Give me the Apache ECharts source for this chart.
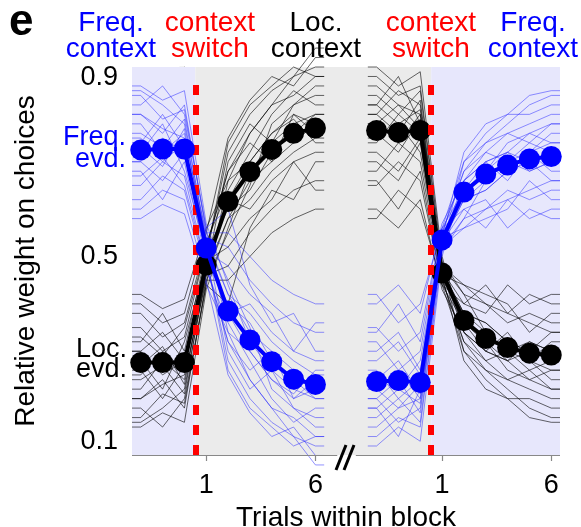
<!DOCTYPE html>
<html><head><meta charset="utf-8">
<script src="https://cdn.jsdelivr.net/npm/echarts@6/dist/echarts.min.js"></script>
<style>html,body{margin:0;padding:0;background:#fff}#c{width:581px;height:527px}</style>
</head><body><div id="c"></div>
<script>
// ---- data ----
const trials = [-2, -1, 0, 1, 2, 3, 4, 5, 6];
const xTickTrials = [1, 6];
const yTicks = [0.1, 0.5, 0.9];
const OFFSET = 10.8; // shift of the second panel on the shared (broken) axis

// mean curves
const leftFreqMean = [0.725, 0.727, 0.727, 0.518, 0.385, 0.324, 0.278, 0.241, 0.230];
const leftLocMean  = [0.276, 0.276, 0.276, 0.482, 0.616, 0.679, 0.726, 0.760, 0.771];
const rightLocMean = [0.766, 0.762, 0.766, 0.465, 0.365, 0.327, 0.308, 0.296, 0.292];
const rightFreqMean= [0.236, 0.238, 0.234, 0.535, 0.636, 0.674, 0.693, 0.706, 0.711];

// individual subjects, left panel (Freq. -> Loc. context)
const leftLoc = [
 [0.30,0.25,0.28,0.50,0.72,0.80,0.85,0.88,0.90],
 [0.20,0.24,0.18,0.45,0.55,0.65,0.78,0.82,0.86],
 [0.35,0.30,0.33,0.52,0.68,0.74,0.70,0.80,0.78],
 [0.15,0.18,0.22,0.46,0.58,0.62,0.68,0.72,0.75],
 [0.40,0.36,0.38,0.55,0.75,0.83,0.88,0.86,0.92],
 [0.25,0.30,0.26,0.48,0.62,0.70,0.76,0.79,0.74],
 [0.28,0.22,0.32,0.49,0.52,0.58,0.62,0.70,0.72],
 [0.18,0.14,0.20,0.44,0.66,0.76,0.82,0.84,0.88],
 [0.32,0.38,0.30,0.51,0.60,0.64,0.72,0.76,0.80],
 [0.22,0.28,0.24,0.47,0.70,0.78,0.74,0.82,0.84],
 [0.38,0.33,0.36,0.53,0.64,0.72,0.80,0.85,0.82],
 [0.26,0.20,0.27,0.46,0.48,0.55,0.60,0.64,0.66],
 [0.14,0.17,0.15,0.43,0.56,0.68,0.74,0.78,0.80],
 [0.30,0.34,0.28,0.50,0.74,0.82,0.86,0.90,0.88],
 [0.42,0.39,0.41,0.56,0.66,0.70,0.76,0.80,0.76],
 [0.24,0.27,0.21,0.47,0.58,0.66,0.70,0.74,0.78],
 [0.20,0.23,0.25,0.45,0.45,0.50,0.55,0.58,0.60],
 [0.33,0.29,0.35,0.52,0.68,0.76,0.82,0.88,0.94],
 [0.27,0.31,0.23,0.48,0.62,0.60,0.66,0.70,0.64],
 [0.16,0.21,0.19,0.44,0.40,0.56,0.64,0.62,0.70]
];
const leftFreq = [
 [0.70,0.75,0.72,0.50,0.28,0.20,0.15,0.12,0.10],
 [0.80,0.76,0.82,0.55,0.45,0.35,0.22,0.18,0.14],
 [0.65,0.70,0.67,0.48,0.32,0.26,0.30,0.20,0.22],
 [0.85,0.82,0.78,0.54,0.42,0.38,0.32,0.28,0.25],
 [0.60,0.64,0.62,0.45,0.25,0.17,0.12,0.14,0.08],
 [0.75,0.70,0.74,0.52,0.38,0.30,0.24,0.21,0.26],
 [0.72,0.78,0.68,0.51,0.48,0.42,0.38,0.30,0.28],
 [0.82,0.86,0.80,0.56,0.34,0.24,0.18,0.16,0.12],
 [0.68,0.62,0.70,0.49,0.40,0.36,0.28,0.24,0.20],
 [0.78,0.72,0.76,0.53,0.30,0.22,0.26,0.18,0.16],
 [0.62,0.67,0.64,0.47,0.36,0.28,0.20,0.15,0.18],
 [0.74,0.80,0.73,0.54,0.52,0.45,0.40,0.36,0.34],
 [0.86,0.83,0.85,0.57,0.44,0.32,0.26,0.22,0.20],
 [0.70,0.66,0.72,0.50,0.26,0.18,0.14,0.10,0.12],
 [0.58,0.61,0.59,0.44,0.34,0.30,0.24,0.20,0.24],
 [0.76,0.73,0.79,0.53,0.42,0.34,0.30,0.26,0.22],
 [0.80,0.77,0.75,0.55,0.55,0.50,0.45,0.42,0.40],
 [0.67,0.71,0.65,0.48,0.32,0.24,0.18,0.12,0.06],
 [0.73,0.69,0.77,0.52,0.38,0.40,0.34,0.30,0.36],
 [0.84,0.79,0.81,0.56,0.60,0.44,0.36,0.38,0.30]
];
// individual subjects, right panel (Loc. -> Freq. context)
const rightLoc = [
 [0.80,0.85,0.82,0.47,0.38,0.34,0.30,0.28,0.26],
 [0.72,0.68,0.75,0.45,0.32,0.28,0.24,0.22,0.20],
 [0.88,0.84,0.86,0.49,0.42,0.40,0.38,0.36,0.34],
 [0.65,0.70,0.66,0.44,0.30,0.26,0.22,0.18,0.16],
 [0.78,0.74,0.80,0.47,0.40,0.38,0.44,0.40,0.42],
 [0.60,0.56,0.62,0.43,0.34,0.30,0.28,0.32,0.30],
 [0.82,0.88,0.78,0.48,0.36,0.32,0.26,0.24,0.22],
 [0.75,0.78,0.72,0.46,0.44,0.42,0.40,0.34,0.38],
 [0.90,0.86,0.89,0.50,0.34,0.28,0.30,0.26,0.28],
 [0.70,0.66,0.74,0.45,0.38,0.36,0.32,0.30,0.34],
 [0.84,0.80,0.85,0.48,0.30,0.24,0.20,0.20,0.18],
 [0.58,0.64,0.60,0.44,0.40,0.44,0.38,0.42,0.40],
 [0.76,0.72,0.79,0.47,0.36,0.30,0.34,0.28,0.24],
 [0.86,0.82,0.80,0.48,0.42,0.34,0.30,0.32,0.30],
 [0.68,0.74,0.70,0.45,0.32,0.26,0.24,0.26,0.22],
 [0.80,0.76,0.83,0.47,0.38,0.36,0.32,0.28,0.32],
 [0.74,0.80,0.76,0.46,0.28,0.22,0.20,0.16,0.15],
 [0.82,0.78,0.81,0.48,0.44,0.40,0.36,0.38,0.36],
 [0.66,0.60,0.68,0.44,0.36,0.32,0.28,0.24,0.26],
 [0.78,0.82,0.77,0.47,0.34,0.30,0.28,0.30,0.28]
];
const rightFreq = [
 [0.20,0.15,0.18,0.53,0.62,0.66,0.70,0.72,0.74],
 [0.28,0.32,0.25,0.55,0.68,0.72,0.76,0.78,0.80],
 [0.12,0.16,0.14,0.51,0.58,0.60,0.62,0.64,0.66],
 [0.35,0.30,0.34,0.56,0.70,0.74,0.78,0.82,0.84],
 [0.22,0.26,0.20,0.53,0.60,0.62,0.56,0.60,0.58],
 [0.40,0.44,0.38,0.57,0.66,0.70,0.72,0.68,0.70],
 [0.18,0.12,0.22,0.52,0.64,0.68,0.74,0.76,0.78],
 [0.25,0.22,0.28,0.54,0.56,0.58,0.60,0.66,0.62],
 [0.10,0.14,0.11,0.50,0.66,0.72,0.70,0.74,0.72],
 [0.30,0.34,0.26,0.55,0.62,0.64,0.68,0.70,0.66],
 [0.16,0.20,0.15,0.52,0.70,0.76,0.80,0.80,0.82],
 [0.42,0.36,0.40,0.56,0.60,0.56,0.62,0.58,0.60],
 [0.24,0.28,0.21,0.53,0.64,0.70,0.66,0.72,0.76],
 [0.14,0.18,0.20,0.52,0.58,0.66,0.70,0.68,0.70],
 [0.32,0.26,0.30,0.55,0.68,0.74,0.76,0.74,0.78],
 [0.20,0.24,0.17,0.53,0.62,0.64,0.68,0.72,0.68],
 [0.26,0.20,0.24,0.54,0.72,0.78,0.80,0.84,0.85],
 [0.18,0.22,0.19,0.52,0.56,0.60,0.64,0.62,0.64],
 [0.34,0.40,0.32,0.56,0.64,0.68,0.72,0.76,0.74],
 [0.22,0.18,0.23,0.53,0.66,0.70,0.72,0.70,0.72]
];

// ---- chart ----
const FONT = '"Liberation Sans", Arial, Helvetica, sans-serif';
const BLUE = '#0000ff', RED = '#ff0000';
const LAV = '#e7e7fc', GREY = '#ebebeb';
const YMIN = 0.081, YMAX = 0.9;
const EDGE = 0.4;
const X0 = trials[0] - EDGE, X1 = trials[trials.length - 1] + EDGE + OFFSET;
const SWITCH_L = 0.5, SWITCH_R = 0.5 + OFFSET;
const FS = 27;   // tick label font
const AFS = 28;  // annotation font

function lineData(vals, off) {
  const d = trials.map((t, i) => ({ value: [t + off, vals[i]] }));
  d.unshift({ value: [trials[0] - EDGE + off, vals[0]], symbol: 'none' });
  d.push({ value: [trials[trials.length - 1] + EDGE + off, vals[vals.length - 1]], symbol: 'none' });
  return d;
}

const series = [];
// backgrounds
series.push({
  type: 'line', data: [], z: 0, silent: true,
  markArea: {
    silent: true,
    data: [
      [{ xAxis: X0, yAxis: YMIN, itemStyle: { color: LAV } }, { xAxis: SWITCH_L, yAxis: YMAX }],
      [{ xAxis: SWITCH_L, yAxis: YMIN, itemStyle: { color: GREY } }, { xAxis: SWITCH_R, yAxis: YMAX }],
      [{ xAxis: SWITCH_R, yAxis: YMIN, itemStyle: { color: LAV } }, { xAxis: X1, yAxis: YMAX }]
    ]
  }
});
function indiv(arr, off, color) {
  arr.forEach(v => series.push({
    type: 'line', data: lineData(v, off), symbol: 'none', clip: false, silent: true, z: 2,
    lineStyle: { color: color, width: 1 }
  }));
}
indiv(leftLoc, 0, 'rgba(0,0,0,0.6)');
indiv(rightLoc, OFFSET, 'rgba(0,0,0,0.6)');
indiv(leftFreq, 0, 'rgba(40,40,255,0.5)');
indiv(rightFreq, OFFSET, 'rgba(40,40,255,0.5)');

// switch lines + broken x-axis line
series.push({
  type: 'line', data: [], z: 3, silent: true,
  markLine: {
    silent: true, symbol: 'none', label: { show: false }, animation: false,
    data: [
      [{ coord: [SWITCH_L, YMIN], lineStyle: { color: RED, width: 6, type: [10, 10] } }, { coord: [SWITCH_L, 0.88] }],
      [{ coord: [SWITCH_R, YMIN], lineStyle: { color: RED, width: 6, type: [10, 10] } }, { coord: [SWITCH_R, 0.88] }],
      [{ coord: [X0, YMIN], lineStyle: { color: '#888', width: 1.2, type: 'solid' } }, { coord: [7.0, YMIN] }],
      [{ coord: [7.85, YMIN], lineStyle: { color: '#888', width: 1.2, type: 'solid' } }, { coord: [X1, YMIN] }]
    ]
  }
});
function meanS(vals, off, color, z) {
  series.push({
    type: 'line', data: lineData(vals, off), symbol: 'circle', symbolSize: 21, clip: false, z: z,
    itemStyle: { color: color }, lineStyle: { color: color, width: 4 }
  });
}
meanS(leftLocMean, 0, '#000', 4);
meanS(rightLocMean, OFFSET, '#000', 4);
meanS(leftFreqMean, 0, BLUE, 5);
meanS(rightFreqMean, OFFSET, BLUE, 5);

const xTicks = xTickTrials.concat(xTickTrials.map(t => t + OFFSET));

const chart = echarts.init(document.getElementById('c'), null, { renderer: 'canvas' });
chart.setOption({
  animation: false,
  backgroundColor: '#fff',
  grid: { left: 132, right: 21, top: 67, bottom: 72, containLabel: false, outerBoundsMode: 'none' },
  xAxis: {
    type: 'value', min: X0, max: X1,
    name: 'Trials within block', nameLocation: 'middle', nameGap: 41,
    nameTextStyle: { fontSize: 28, color: '#000', fontFamily: FONT },
    axisLine: { show: false },
    splitLine: { show: false },
    axisTick: { show: true, customValues: xTicks, length: 6, inside: false, lineStyle: { color: '#888', width: 1.2 } },
    axisLabel: {
      customValues: xTicks, margin: 17, fontSize: FS, color: '#000', fontFamily: FONT,
      formatter: v => String(Math.round(v > 8 ? v - OFFSET : v))
    }
  },
  yAxis: {
    type: 'value', min: YMIN, max: YMAX,
    name: 'Relative weight on choices', nameLocation: 'middle', nameGap: 92, nameRotate: 90,
    nameTextStyle: { fontSize: 28, color: '#000', fontFamily: FONT },
    axisLine: { show: true, lineStyle: { color: '#888', width: 1.2 } },
    splitLine: { show: false },
    axisTick: { show: true, customValues: yTicks, length: 5, lineStyle: { color: '#888', width: 1.2 } },
    axisLabel: {
      customValues: yTicks, margin: 14, fontSize: FS, color: '#000', fontFamily: FONT,
      formatter: v => {
        const s = v.toFixed(1);
        if (Math.abs(v - 0.9) < 1e-6) return '{t|' + s + '}';
        if (Math.abs(v - 0.1) < 1e-6) return '{b|' + s + '}';
        return '{n|' + s + '}';
      },
      rich: {
        t: { fontSize: FS, color: '#000', fontFamily: FONT, padding: [22, 0, 0, 0] },
        b: { fontSize: FS, color: '#000', fontFamily: FONT, padding: [0, 0, 8, 0] },
        n: { fontSize: FS, color: '#000', fontFamily: FONT }
      }
    }
  },
  graphic: [
    { type: 'text', left: 9, top: 1, style: { text: 'e', fontSize: 44, fontWeight: 'bold', fill: '#000', fontFamily: FONT } },
    { type: 'text', x: 111, y: 36, style: { text: 'Freq.\ncontext', fontSize: AFS, lineHeight: 26, fill: BLUE, align: 'center', verticalAlign: 'middle', fontFamily: FONT } },
    { type: 'text', x: 210, y: 36, style: { text: 'context\nswitch', fontSize: AFS, lineHeight: 26, fill: RED, align: 'center', verticalAlign: 'middle', fontFamily: FONT } },
    { type: 'text', x: 316, y: 36, style: { text: 'Loc.\ncontext', fontSize: AFS, lineHeight: 26, fill: '#000', align: 'center', verticalAlign: 'middle', fontFamily: FONT } },
    { type: 'text', x: 431, y: 36, style: { text: 'context\nswitch', fontSize: AFS, lineHeight: 26, fill: RED, align: 'center', verticalAlign: 'middle', fontFamily: FONT } },
    { type: 'text', x: 533, y: 36, style: { text: 'Freq.\ncontext', fontSize: AFS, lineHeight: 26, fill: BLUE, align: 'center', verticalAlign: 'middle', fontFamily: FONT } },
    { type: 'text', x: 126, y: 149, style: { text: 'Freq.\nevd.', fontSize: FS, lineHeight: 22, fill: BLUE, align: 'right', verticalAlign: 'middle', fontFamily: FONT } },
    { type: 'text', x: 127, y: 360, style: { text: 'Loc.\nevd.', fontSize: FS, lineHeight: 20, fill: '#000', align: 'right', verticalAlign: 'middle', fontFamily: FONT } },
    { type: 'line', shape: { x1: 336, y1: 470, x2: 346, y2: 445 }, style: { stroke: '#000', lineWidth: 3 }, z: 10 },
    { type: 'line', shape: { x1: 344, y1: 470, x2: 354, y2: 445 }, style: { stroke: '#000', lineWidth: 3 }, z: 10 }
  ],
  series: series
});
</script>
</body></html>
